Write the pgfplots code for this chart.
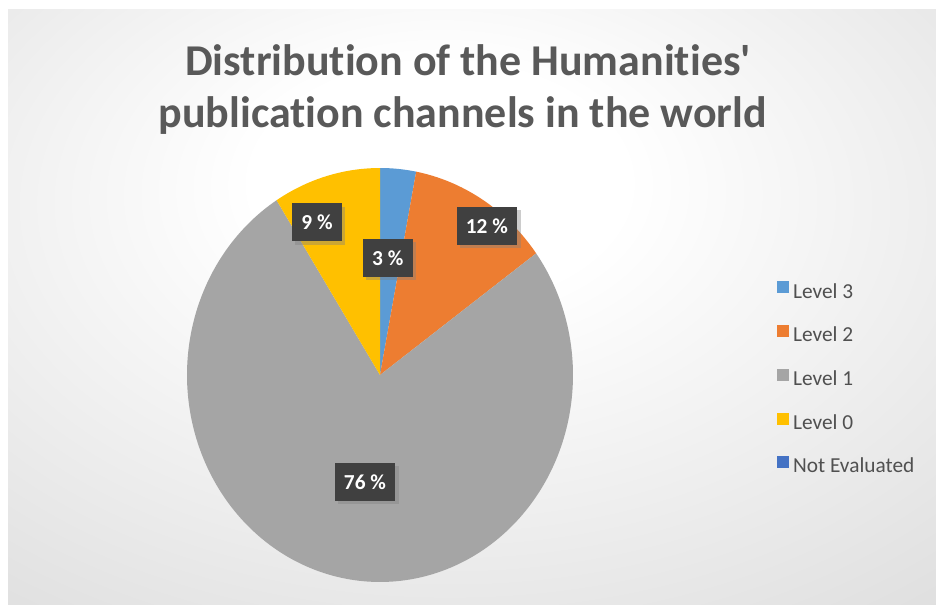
\documentclass[border=0pt]{standalone}
\usepackage{pgfplots}
\pgfplotsset{compat=1.18}
\usepackage{fontspec}
\setmainfont{Carlito}[Ligatures={NoCommon}]
\usetikzlibrary{shadows}

\definecolor{lvlthree}{HTML}{5B9BD5}
\definecolor{lvltwo}{HTML}{ED7D31}
\definecolor{lvlone}{HTML}{A5A5A5}
\definecolor{lvlzero}{HTML}{FFC000}
\definecolor{noteval}{HTML}{4472C4}
\definecolor{titlegray}{HTML}{595959}
\definecolor{legendgray}{HTML}{505050}
\definecolor{labelbox}{HTML}{404040}
\definecolor{bgedge}{HTML}{CDCDCD}

\pgfdeclareradialshading{bgshade}{\pgfpoint{-2bp}{12bp}}{%
  color(0bp)=(white); color(10bp)=(white); color(58bp)=(bgedge); color(80bp)=(bgedge)}

% shares in percent, clockwise from 12 o'clock
\def\pThree{3}
\def\pTwo{12}
\def\pOne{76}
\def\pZero{9}
\def\pNone{0}

\pgfmathsetmacro\aA{90}
\pgfmathsetmacro\aB{\aA-3.6*\pThree}
\pgfmathsetmacro\aC{\aB-3.6*\pTwo}
\pgfmathsetmacro\aD{\aC-3.6*\pOne}
\pgfmathsetmacro\aE{\aD-3.6*\pZero}

\begin{document}
\begin{tikzpicture}
% canvas 936 x 605 px, 1px = 0.75pt
\fill[white] (0,0) rectangle (702pt,-453.75pt);
\shade[shading=bgshade] (6pt,-7.5pt) rectangle (702pt,-453.75pt);

\node[anchor=base, font=\bfseries\fontsize{33}{38}\selectfont, text=titlegray]
  at (351pt,-57pt) {Distribution of the Humanities\textquotesingle};
\node[anchor=base, font=\bfseries\fontsize{33}{38}\selectfont, text=titlegray]
  at (347pt,-96pt) {publication channels in the world};

\begin{axis}[
  at={(285pt,-281.25pt)}, anchor=center,
  scale only axis, width=289.5pt, height=310.5pt,
  xmin=-1, xmax=1, ymin=-1, ymax=1,
  hide axis, clip=false,
  legend cell align=left,
  legend style={at={(rel axis cs:1.528,0.49)}, anchor=west,
    draw=none, fill=none, inner sep=0pt, font=\fontsize{16}{18}\selectfont,
    text=legendgray, row sep=17.3pt,
    nodes={inner sep=0pt, text height=11pt, text depth=3pt},
    /tikz/every odd column/.append style={column sep=3pt}},
  legend image code/.code={\fill[#1, draw=none] (0pt,-0.5pt) rectangle (9pt,8.5pt);},
]
\addplot[fill=lvlthree, draw=none, domain=\aB:\aA, samples=20]
  ({cos(x)},{sin(x)}) -- (axis cs:0,0) -- cycle;
\addlegendentry{Level 3}
\addplot[fill=lvltwo, draw=none, domain=\aC:\aB, samples=40]
  ({cos(x)},{sin(x)}) -- (axis cs:0,0) -- cycle;
\addlegendentry{Level 2}
\addplot[fill=lvlone, draw=none, domain=\aD:\aC, samples=200]
  ({cos(x)},{sin(x)}) -- (axis cs:0,0) -- cycle;
\addlegendentry{Level 1}
\addplot[fill=lvlzero, draw=none, domain=\aE:\aD, samples=30]
  ({cos(x)},{sin(x)}) -- (axis cs:0,0) -- cycle;
\addlegendentry{Level 0}
\addlegendimage{fill=noteval, draw=none}
\addlegendentry{Not Evaluated}

\tikzset{plabel/.style={fill=labelbox, text=white, font=\bfseries\fontsize{16}{18}\selectfont,
  inner xsep=7pt, minimum height=28.5pt,
  drop shadow={opacity=0.4, shadow xshift=2.5pt, shadow yshift=-2.5pt}}}
\node[plabel] at (axis cs:0.04,0.565) {\pThree{} \%};
\node[plabel] at (axis cs:0.554,0.72) {\pTwo{} \%};
\node[plabel] at (axis cs:-0.326,0.737) {\pZero{} \%};
\node[plabel] at (axis cs:-0.078,-0.517) {\pOne{} \%};
\end{axis}
\end{tikzpicture}
\end{document}
